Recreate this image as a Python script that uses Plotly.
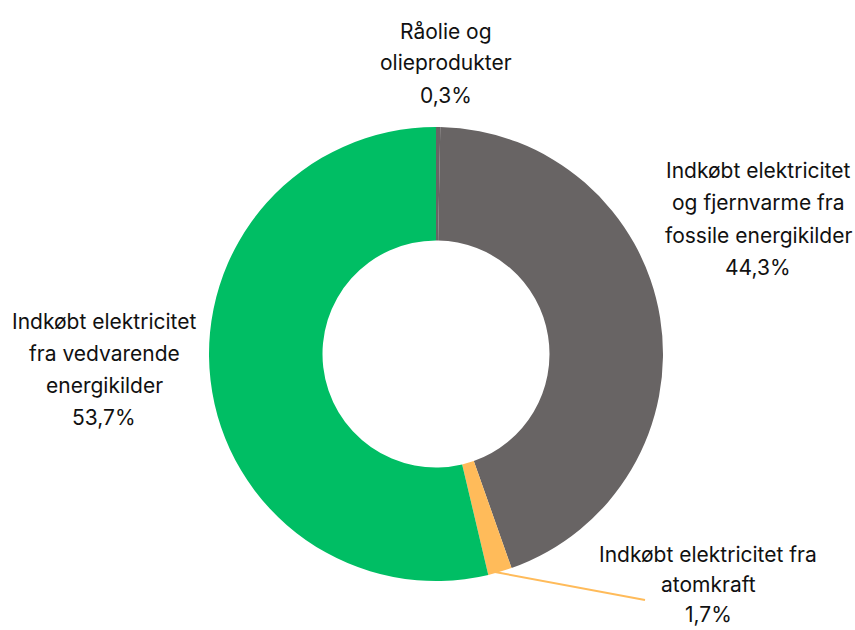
import plotly.graph_objects as go

# Data
categories = [
    "Råolie og<br>olieprodukter",
    "Indkøbt elektricitet<br>og fjernvarme fra<br>fossile energikilder",
    "Indkøbt elektricitet fra<br>atomkraft",
    "Indkøbt elektricitet<br>fra vedvarende<br>energikilder",
]
values = [0.3, 44.3, 1.7, 53.7]
value_labels = ["0,3%", "44,3%", "1,7%", "53,7%"]
colors = ["#686464", "#686464", "#FFBB5A", "#00BE64"]

W, H = 855, 630
cx, cy, R = 436, 354, 227

fig = go.Figure()
fig.add_trace(go.Pie(
    labels=[c.replace("<br>", " ") for c in categories],
    values=values,
    marker=dict(colors=colors, line=dict(width=0)),
    hole=0.5,
    sort=False,
    direction="clockwise",
    rotation=0,
    textinfo="none",
    hoverinfo="label+percent",
    showlegend=False,
    domain=dict(x=[(cx - R) / W, (cx + R) / W], y=[1 - (cy + R) / H, 1 - (cy - R) / H]),
))

# label placement (pixel centre of first line, line spacing)
label_pos = [(446, 31, 32), (758, 171, 32), (708, 554, 30), (104, 321, 32)]
font = dict(family="Inter, Roboto, sans-serif", size=21, color="#111111")
for cat, val, (px, py, sp) in zip(categories, value_labels, label_pos):
    lines = cat.split("<br>") + [val]
    for i, ln in enumerate(lines):
        fig.add_annotation(
            x=px / W, y=1 - (py + i * sp) / H, xref="paper", yref="paper",
            text=ln, showarrow=False, xanchor="center", yanchor="middle", font=font,
        )

# connector for the small slice
fig.add_shape(type="line", xref="paper", yref="paper",
              x0=495 / W, y0=1 - 572 / H, x1=645 / W, y1=1 - 600 / H,
              line=dict(color="#FFBB5A", width=2))

fig.update_layout(
    width=W, height=H,
    margin=dict(l=0, r=0, t=0, b=0),
    paper_bgcolor="white", plot_bgcolor="white",
)
fig.write_html("out.html", config={"displayModeBar": False},
               post_script="document.body.style.margin='0';document.body.style.padding='0';")
